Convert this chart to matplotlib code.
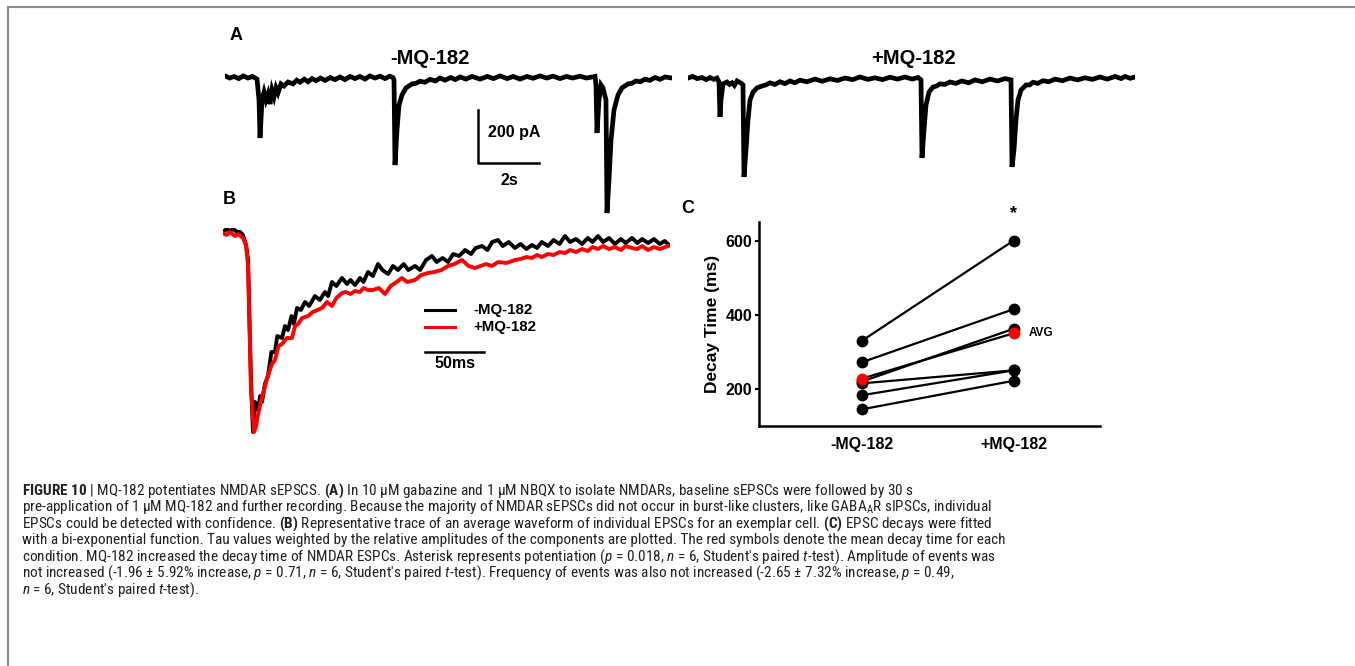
import matplotlib
matplotlib.use('Agg')
import matplotlib.pyplot as plt
from matplotlib import font_manager
from matplotlib.lines import Line2D

W, H = 1355, 666

# panel A: sweeps, (time s, current pA)
a_minus = [(0.00, 4), (0.15, -4), (0.30, 2), (0.45, -6), (0.60, 4), (0.75, -4), (0.90, 2),
           (1.05, -8), (1.115, -87), (1.148, -230), (1.18, -162), (1.213, -87), (1.28, -57),
           (1.344, -87), (1.41, -64), (1.475, -102), (1.54, -49), (1.607, -75), (1.672, -41),
           (1.738, -60), (1.836, -26), (1.934, -34), (2.066, -19), (2.23, -26), (2.35, -12),
           (2.459, -20), (2.6, -8), (2.721, -18), (2.85, -6), (2.984, -14), (3.13, -4),
           (3.279, -13), (3.45, -2), (3.607, -10), (3.77, 0), (3.934, -10), (4.1, 2),
           (4.262, -6), (4.42, 2), (4.59, -8), (4.75, 4), (4.918, -4), (5.08, 3), (5.246, -6),
           (5.40, 3), (5.508, -2), (5.541, -11), (5.574, -332), (5.639, -200), (5.705, -106),
           (5.803, -68), (5.934, -41), (6.03, -34), (6.131, -26), (6.26, -24), (6.393, -16),
           (6.55, -20), (6.721, -9), (6.9, -15), (7.05, -4), (7.213, -12), (7.4, -2),
           (7.55, -10), (7.705, 0), (7.9, -8), (8.1, 2), (8.361, -8), (8.6, 2), (8.8, -6),
           (9.016, 4), (9.25, -6), (9.45, 2), (9.672, -8), (9.9, 2), (10.1, -5), (10.328, 4),
           (10.55, -4), (10.75, 3), (10.984, -6), (11.2, 2), (11.4, -4), (11.639, 3),
           (11.85, -4), (12.131, 2), (12.164, -30), (12.197, -211), (12.262, -87),
           (12.328, -30), (12.393, -41), (12.492, -87), (12.525, -513), (12.59, -388),
           (12.656, -238), (12.754, -124), (12.885, -68), (13.016, -41), (13.11, -34),
           (13.213, -26), (13.34, -24), (13.475, -15), (13.62, -18), (13.77, -8), (13.93, -13),
           (14.098, -2), (14.26, -9), (14.426, 0), (14.656, -4)]
a_plus = [(0.0, -4), (0.15, 2), (0.30, -6), (0.459, -2), (0.60, -10), (0.721, -2), (0.85, -9),
          (0.951, -4), (1.016, -19), (1.049, -151), (1.082, -87), (1.148, -26), (1.279, -19),
          (1.36, -28), (1.443, -22), (1.52, -32), (1.607, -15), (1.738, -23), (1.803, -30),
          (1.836, -377), (1.902, -275), (1.967, -162), (2.033, -87), (2.131, -57), (2.262, -41),
          (2.426, -34), (2.55, -30), (2.689, -22), (2.85, -28), (3.016, -18), (3.18, -25),
          (3.344, -15), (3.5, -22), (3.672, -12), (3.9, -18), (4.164, -8), (4.4, -16),
          (4.656, -7), (4.9, -13), (5.148, -4), (5.4, -10), (5.639, 0), (5.9, -9), (6.131, -3),
          (6.38, -10), (6.623, -1), (6.87, -8), (7.115, 0), (7.35, -8), (7.541, -2),
          (7.639, -11), (7.672, -305), (7.738, -200), (7.803, -106), (7.902, -57), (8.033, -38),
          (8.15, -34), (8.262, -26), (8.42, -28), (8.59, -19), (8.78, -24), (8.984, -15),
          (9.2, -22), (9.41, -11), (9.65, -18), (9.902, -8), (10.15, -15), (10.393, -6),
          (10.59, -11), (10.623, -339), (10.689, -275), (10.754, -162), (10.82, -87),
          (10.918, -49), (11.0, -40), (11.082, -30), (11.2, -30), (11.311, -20), (11.47, -24),
          (11.639, -14), (11.83, -18), (12.033, -8), (12.28, -14), (12.525, -4), (12.77, -11),
          (13.016, -3), (13.26, -9), (13.508, 0), (13.75, -8), (14.0, 2), (14.2, -6),
          (14.328, 2), (14.5, -5), (14.656, 0)]

# panel B: averaged EPSCs, (time ms, normalised current)
b_minus = [(0, 0), (3, 0.015), (5.9, 0.005), (9, 0.015), (11.9, 0.0), (14.5, 0.0), (16.9, -0.015),
           (19.5, -0.065), (21.2, -0.14), (23.7, -0.74), (25.4, -1.0), (27.1, -0.85),
           (29.6, -0.89), (31.5, -0.82), (33.0, -0.85), (35.5, -0.76), (38.1, -0.72), (41, -0.6),
           (44.0, -0.6), (46, -0.52), (50.0, -0.53), (52.5, -0.47), (55.1, -0.49), (58, -0.42),
           (60, -0.46), (62.7, -0.38), (66, -0.39), (69.5, -0.35), (73, -0.37), (77.9, -0.32),
           (82, -0.34), (86.4, -0.3), (89, -0.32), (92.3, -0.25), (96, -0.27), (100.8, -0.23),
           (105, -0.26), (108, -0.24), (111.8, -0.265), (116, -0.23), (119, -0.25),
           (122.8, -0.2), (127, -0.22), (131.3, -0.16), (135, -0.19), (139.8, -0.21),
           (144, -0.17), (148.2, -0.19), (153, -0.16), (157, -0.19), (162.6, -0.17),
           (167, -0.19), (172, -0.14), (177.0, -0.12), (181, -0.15), (186, -0.13),
           (190.6, -0.15), (195, -0.11), (200, -0.12), (205.0, -0.09), (210, -0.11),
           (214, -0.08), (219.4, -0.07), (224, -0.09), (228, -0.05), (232.9, -0.04),
           (237, -0.07), (242, -0.05), (247.3, -0.08), (252, -0.06), (257, -0.085),
           (261.7, -0.065), (266, -0.08), (270, -0.05), (275.3, -0.07), (280, -0.04),
           (285, -0.06), (289.7, -0.02), (294, -0.05), (299, -0.035), (304.1, -0.06),
           (309, -0.03), (313, -0.05), (317.6, -0.02), (322, -0.05), (327, -0.03),
           (332.0, -0.06), (337, -0.035), (341, -0.055), (346.4, -0.03), (351, -0.055),
           (355, -0.035), (360.0, -0.055), (365, -0.035), (370, -0.06), (374, -0.045),
           (376.9, -0.06)]
b_plus = [(0, -0.005), (3, -0.015), (6, 0.0), (10.2, -0.02), (13, -0.01), (16.9, -0.03),
          (19.5, -0.065), (21.2, -0.165), (23.7, -0.79), (26.3, -1.0), (28, -0.97),
          (29.6, -0.915), (32, -0.85), (35.6, -0.77), (38, -0.72), (41.5, -0.66), (44, -0.64),
          (47, -0.57), (50.0, -0.56), (54, -0.53), (58.4, -0.53), (61, -0.47), (63.5, -0.46),
          (67, -0.43), (72.0, -0.42), (76, -0.4), (80, -0.39), (83.9, -0.38), (88, -0.35),
          (92.3, -0.37), (96, -0.33), (100.8, -0.305), (104, -0.3), (108, -0.31),
          (111.8, -0.295), (116, -0.3), (119, -0.28), (122.8, -0.29), (127, -0.29),
          (132, -0.28), (137.2, -0.31), (142, -0.27), (147, -0.25), (151.6, -0.23),
          (156, -0.25), (162.6, -0.24), (168, -0.215), (173.6, -0.205), (179, -0.2),
          (185, -0.19), (190.6, -0.17), (196, -0.16), (202.4, -0.14), (208, -0.17),
          (213.4, -0.18), (218, -0.17), (223, -0.16), (227.8, -0.17), (233, -0.15),
          (240, -0.155), (247.3, -0.14), (252, -0.135), (257, -0.125), (261.7, -0.13),
          (266, -0.115), (270, -0.125), (275.3, -0.11), (280, -0.115), (285, -0.1),
          (289.7, -0.105), (294, -0.09), (299, -0.1), (304.1, -0.085), (309, -0.095),
          (313, -0.075), (317.6, -0.085), (322, -0.07), (327, -0.085), (332.0, -0.075),
          (337, -0.09), (341, -0.07), (346.4, -0.08), (351, -0.085), (355, -0.07),
          (360.0, -0.09), (365, -0.075), (370, -0.085), (376.9, -0.07)]

# panel C: decay time (ms) per cell, before / after MQ-182
conditions = ['-MQ-182', '+MQ-182']
decay_minus = [330, 272, 220, 215, 183, 145]
decay_plus = [600, 415, 362, 250, 250, 222]
avg_minus, avg_plus = 228, 350

caption = [
    r"$\mathbf{FIGURE\ 10}$ | MQ-182 potentiates NMDAR sEPSCS. $\mathbf{(A)}$ In 10 μM gabazine and 1 μM NBQX to isolate NMDARs, baseline sEPSCs were followed by 30 s",
    r"pre-application of 1 μM MQ-182 and further recording. Because the majority of NMDAR sEPSCs did not occur in burst-like clusters, like GABA$_\mathrm{A}$R sIPSCs, individual",
    r"EPSCs could be detected with confidence. $\mathbf{(B)}$ Representative trace of an average waveform of individual EPSCs for an exemplar cell. $\mathbf{(C)}$ EPSC decays were fitted",
    r"with a bi-exponential function. Tau values weighted by the relative amplitudes of the components are plotted. The red symbols denote the mean decay time for each",
    r"condition. MQ-182 increased the decay time of NMDAR ESPCs. Asterisk represents potentiation ($\mathit{p}$ = 0.018, $\mathit{n}$ = 6, Student's paired $\mathit{t}$-test). Amplitude of events was",
    r"not increased (-1.96 ± 5.92% increase, $\mathit{p}$ = 0.71, $\mathit{n}$ = 6, Student's paired $\mathit{t}$-test). Frequency of events was also not increased (-2.65 ± 7.32% increase, $\mathit{p}$ = 0.49,",
    r"$\mathit{n}$ = 6, Student's paired $\mathit{t}$-test).",
]

names = {f.name for f in font_manager.fontManager.ttflist}
cap_font, cap_max = 'Liberation Sans', 10.0
for cand in ['Liberation Sans Narrow', 'DejaVu Sans Condensed', 'Roboto Condensed', 'Open Sans Condensed']:
    if cand in names:
        cap_font, cap_max = cand, 11.0
        break

plt.rcParams['font.family'] = ['Liberation Sans', 'DejaVu Sans']
plt.rcParams['mathtext.fontset'] = 'custom'
plt.rcParams['mathtext.rm'] = cap_font
plt.rcParams['mathtext.it'] = cap_font + ':italic'
plt.rcParams['mathtext.bf'] = cap_font + ':bold'


def box(x0, y0, x1, y1):
    # pixel box (top-left origin) -> figure fraction rect
    return [x0 / W, (H - y1) / H, (x1 - x0) / W, (y1 - y0) / H]


fig = plt.figure(figsize=(W / 100, H / 100), dpi=100)

# frame
fig.add_artist(Line2D([8 / W, 8 / W], [0, 1 - 7 / H], color='#8a8a8a', lw=1.5))
fig.add_artist(Line2D([8 / W, 1], [1 - 7 / H, 1 - 7 / H], color='#8a8a8a', lw=1.5))

# ---- panel A
axa1 = fig.add_axes(box(225, 60, 672, 220))
axa2 = fig.add_axes(box(688, 60, 1135, 220))
for ax, trace in ((axa1, a_minus), (axa2, a_plus)):
    t, i = zip(*trace)
    ax.plot(t, i, color='black', lw=3.4, solid_joinstyle='miter')
    ax.set_xlim(0, 14.656)
    ax.set_ylim(-539, 64)
    ax.axis('off')
axa1.plot([8.295, 8.295, 10.295], [-124, -324, -324], color='black', lw=1.8, clip_on=False)
axa1.text(8.62, -211, '200 pA', fontsize=11.5, fontweight='bold', ha='left', va='center')
axa1.text(9.34, -390, '2s', fontsize=11.5, fontweight='bold', ha='center', va='center')
fig.text(430 / W, 1 - 58 / H, '-MQ-182', fontsize=14.5, fontweight='bold', ha='center', va='center')
fig.text(913 / W, 1 - 58 / H, '+MQ-182', fontsize=14.5, fontweight='bold', ha='center', va='center')
fig.text(236 / W, 1 - 35 / H, 'A', fontsize=13, fontweight='bold', ha='center', va='center')

# ---- panel B
axb = fig.add_axes(box(223, 228, 670, 436))
for trace, col in ((b_minus, 'black'), (b_plus, '#ff0000')):
    t, v = zip(*trace)
    axb.plot(t, v, color=col, lw=2.8)
axb.set_xlim(0, 378.6)
axb.set_ylim(-1.02, 0.02)
axb.axis('off')
axb.plot([171.1, 196.5], [-0.39, -0.39], color='black', lw=2.2)
axb.plot([171.1, 196.5], [-0.4725, -0.4725], color='#ff0000', lw=2.2)
axb.text(211.8, -0.39, '-MQ-182', fontsize=10.8, fontweight='bold', ha='left', va='center')
axb.text(211.8, -0.4725, '+MQ-182', fontsize=10.8, fontweight='bold', ha='left', va='center')
axb.plot([171.1, 221.1], [-0.6, -0.6], color='black', lw=1.8)
axb.text(196.1, -0.66, '50ms', fontsize=11.5, fontweight='bold', ha='center', va='center')
fig.text(229 / W, 1 - 199 / H, 'B', fontsize=13, fontweight='bold', ha='center', va='center')

# ---- panel C
axc = fig.add_axes(box(759, 222, 1100, 426))
x = [0, 1]
for lo, hi in zip(decay_minus, decay_plus):
    axc.plot(x, [lo, hi], color='black', lw=1.6, marker='o', ms=7.5, zorder=2)
axc.plot(x, [avg_minus, avg_plus], color='black', lw=1.6, marker='o', ms=7.5,
         mfc='#ff0000', mec='#ff0000', zorder=3)
axc.set_xlim(-0.68, 1.57)
axc.set_ylim(100, 650)
axc.set_yticks([200, 400, 600])
axc.set_xticks(x)
axc.set_xticklabels(conditions)
axc.tick_params(axis='y', length=3, width=1.5, labelsize=11.5, pad=2)
axc.tick_params(axis='x', length=0, labelsize=11.5, pad=8)
for lbl in axc.get_xticklabels() + axc.get_yticklabels():
    lbl.set_fontweight('bold')
axc.set_ylabel('Decay Time (ms)', fontsize=12.5, fontweight='bold', labelpad=4)
for s in ('top', 'right'):
    axc.spines[s].set_visible(False)
for s in ('left', 'bottom'):
    axc.spines[s].set_linewidth(1.8)
axc.text(1, 672, '*', fontsize=13, fontweight='bold', ha='center', va='center', clip_on=False)
axc.text(1.1, 352, 'AVG', fontsize=8.5, fontweight='bold', ha='left', va='center')
fig.text(688 / W, 1 - 208 / H, 'C', fontsize=13, fontweight='bold', ha='center', va='center')

# ---- caption: fit second line to the frame width, but keep lines from colliding
cap_y = [491, 507, 523.5, 540, 556.5, 573, 589.5]
texts = [fig.text(22 / W, 1 - y / H, line, fontsize=9, color='#231f20',
                  family=cap_font, ha='left', va='center')
         for line, y in zip(caption, cap_y)]
fig.canvas.draw()
w2 = texts[1].get_window_extent(fig.canvas.get_renderer()).width
fs = min(9 * (1318 / w2), cap_max)
for t in texts:
    t.set_fontsize(fs)

fig.savefig('out.png', dpi=100)
